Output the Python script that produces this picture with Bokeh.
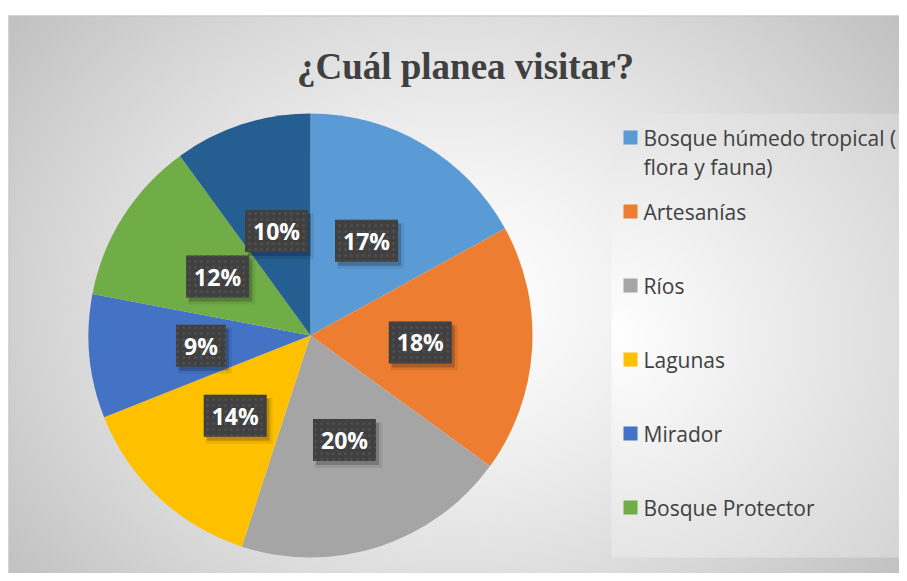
import numpy as np
from bokeh.plotting import figure
from bokeh.models import Range1d, ColumnDataSource
from bokeh.core.properties import value
from bokeh.embed import file_html
from bokeh.resources import INLINE

# ---- data ----
title = "¿Cuál planea visitar?"
categories = ["Bosque húmedo tropical ( flora y fauna)", "Artesanías", "Ríos",
              "Lagunas", "Mirador", "Bosque Protector"]
values = [17, 18, 20, 14, 9, 12, 10]
colors = ["#5B9BD5", "#ED7D31", "#A5A5A5", "#FFC000", "#4472C4", "#70AD47", "#255E91"]

# ---- layout helpers (screen px -> data) ----
TOP = 573
def sy(y):
    return TOP - y

p = figure(width=899, height=573, x_range=Range1d(0, 899), y_range=Range1d(0, 573),
           output_backend="svg", toolbar_location=None, min_border=0,
           x_axis_location=None, y_axis_location=None)
p.grid.visible = False
p.outline_line_color = None
p.background_fill_color = "white"
p.border_fill_color = "white"

# ---- background gradient ----
x0, x1, y0s = 8, 899, 15
nx, ny = 446, 280
xs = x0 + (np.arange(nx) + 0.5) * (x1 - x0) / nx
ys_data = (np.arange(ny) + 0.5) * sy(y0s) / ny
X, YD = np.meshgrid(xs, ys_data)
YS = TOP - YD
d = np.sqrt(((X - 455) / 460) ** 2 + ((YS - 300) / 380) ** 2)
c = 255 - 48 * d ** 1.3
leg = (X >= 611) & (YS >= 113) & (YS <= 557)
d2 = np.sqrt(((X - 611) / 330) ** 2 + ((YS - 335) / 330) ** 2)
c2 = 255 - 38 * d2
c = np.where(leg, c2, c)
c = np.clip(c, 188, 255).astype(np.uint8)
img = np.empty((ny, nx), dtype=np.uint32)
view = img.view(dtype=np.uint8).reshape((ny, nx, 4))
view[:, :, 0] = c
view[:, :, 1] = c
view[:, :, 2] = c
view[:, :, 3] = 255
p.image_rgba(image=[img], x=x0, y=0, dw=x1 - x0, dh=sy(y0s))
p.segment(x0=[x0], y0=[sy(y0s) - 0.5], x1=[x1], y1=[sy(y0s) - 0.5],
          line_color="#c6c6c6", line_width=1)
p.segment(x0=[x0 + 0.5], y0=[0], x1=[x0 + 0.5], y1=[sy(y0s)],
          line_color="#c6c6c6", line_width=1)

# ---- pie ----
cx, cy, r = 310, sy(335), 222
total = float(sum(values))
cum = np.cumsum([0] + values) / total
starts = np.pi / 2 - 2 * np.pi * cum[:-1]
ends = np.pi / 2 - 2 * np.pi * cum[1:]
src = ColumnDataSource(dict(start=starts, end=ends, color=colors))
p.wedge(x=cx, y=cy, radius=r, start_angle="start", end_angle="end",
        direction="clock", fill_color="color", line_color=None, source=src)

# ---- data labels ----
mids = (starts + ends) / 2
lr = 110
lx = cx + lr * np.cos(mids)
ly = cy + lr * np.sin(mids)
labels = [f"{v}%" for v in values]
widths = [63 if len(l) > 2 else 50 for l in labels]
p.rect(x=lx + 4, y=ly - 5, width=[w + 4 for w in widths], height=46,
       fill_color="black", fill_alpha=0.08, line_color=None)
p.rect(x=lx + 3, y=ly - 4, width=widths, height=42,
       fill_color="black", fill_alpha=0.20, line_color=None)
p.rect(x=lx, y=ly, width=widths, height=42, fill_color="#404040", line_color=None,
       hatch_pattern="dot", hatch_color="#4e4e4e", hatch_scale=6, hatch_weight=1.5)
p.text(x=lx, y=ly, text=labels, text_align="center", text_baseline="middle",
       text_font=value("Open Sans"), text_font_style="bold", text_font_size="23px",
       text_color="white")

# ---- title ----
p.text(x=[465], y=[sy(66)], text=[title], text_align="center", text_baseline="middle",
       text_font=value("Liberation Serif"), text_font_style="bold",
       text_font_size="37px", text_color="#404040")

# ---- legend ----
def wrap(s, n=24):
    words, lines, cur = s.split(" "), [], ""
    for w in words:
        t = (cur + " " + w).strip()
        if len(t) > n and cur:
            lines.append(cur)
            cur = w
        else:
            cur = t
    lines.append(cur)
    return lines

mx, my, tx, tl, ty = [], [], [], [], []
row_y = [137, 211, 285, 359, 433, 507]
for i, name in enumerate(categories):
    yy = row_y[i]
    mx.append(630)
    my.append(sy(yy))
    for k, line in enumerate(wrap(name)):
        tx.append(643)
        ty.append(sy(yy + 29 * k))
        tl.append(line)
p.rect(x=mx, y=my, width=14, height=14, fill_color=colors[:len(categories)], line_color=None)
p.text(x=tx, y=ty, text=tl, text_align="left", text_baseline="middle",
       text_font=value("Open Sans"), text_font_size="21px", text_color="#404040")

open("out.html", "w").write(file_html(p, INLINE))
